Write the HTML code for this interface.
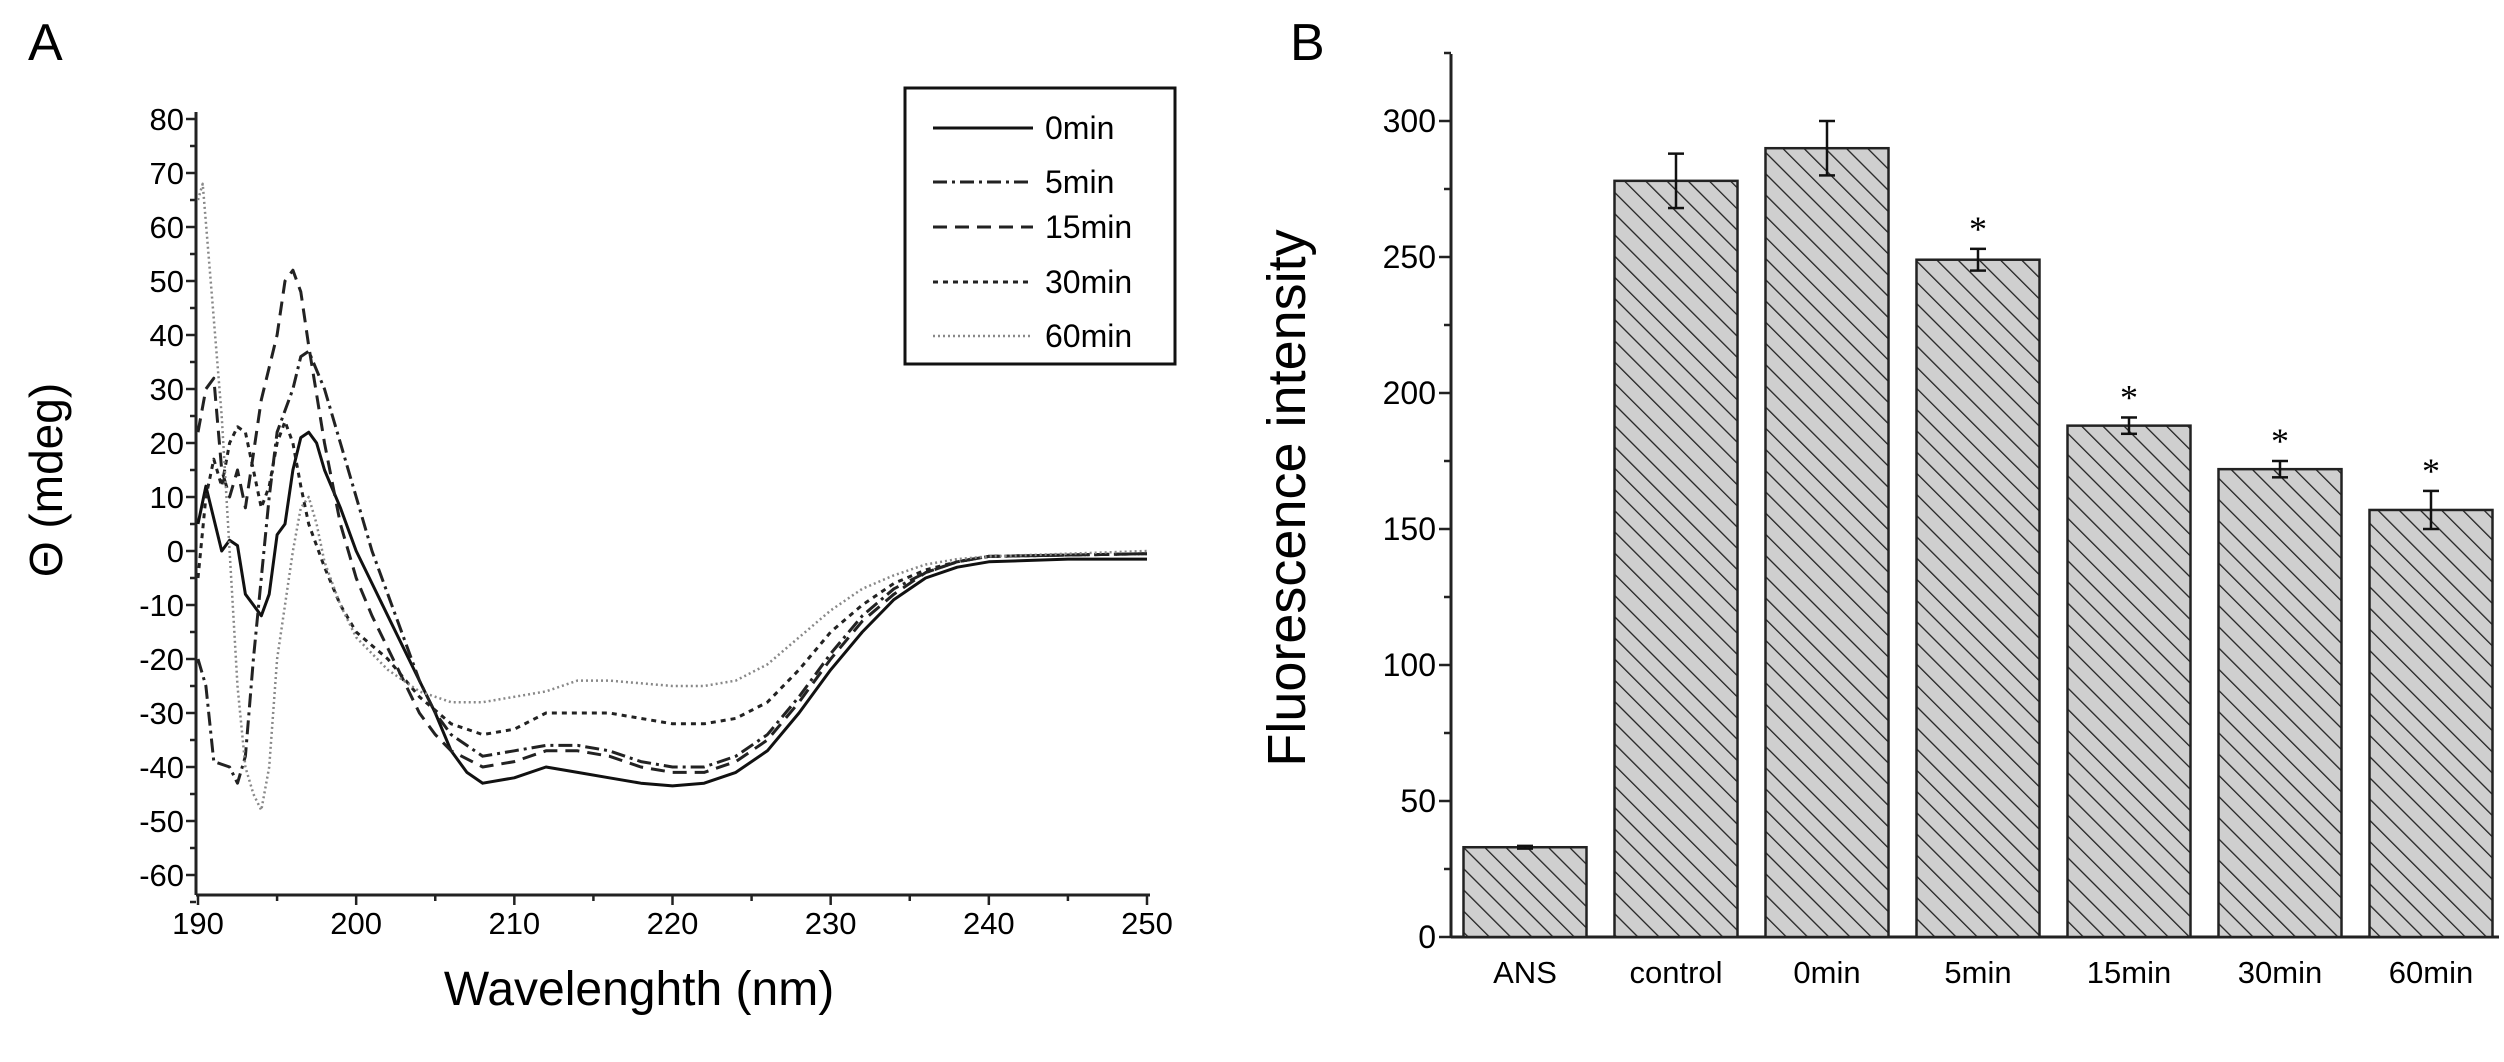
<!DOCTYPE html>
<html><head><meta charset="utf-8"><style>
html,body{margin:0;padding:0;background:#fff;}
svg{display:block;font-family:"Liberation Sans",Arial,sans-serif;}
</style></head><body>
<svg id="fig" width="2504" height="1062" viewBox="0 0 2504 1062" xmlns="http://www.w3.org/2000/svg">
<defs>
<pattern id="hatch" patternUnits="userSpaceOnUse" width="15" height="15" patternTransform="rotate(-45)">
<rect width="15" height="15" fill="#cfcfcf"/>
<line x1="0" y1="0" x2="0" y2="15" stroke="#222" stroke-width="2.6"/>
</pattern>
</defs>
<text x="28" y="60" font-size="52">A</text>
<text x="1290" y="60" font-size="52">B</text>
<g id="gA"></g>
<g id="gB"></g>
</svg>
<script>
const NS="http://www.w3.org/2000/svg";
function mk(parent,tag,attrs,txt){const e=document.createElementNS(NS,tag);for(const k in attrs)e.setAttribute(k,attrs[k]);if(txt!==undefined)e.textContent=txt;parent.appendChild(e);return e;}

// ---------- Panel A data ----------
const aYTicks=[80,70,60,50,40,30,20,10,0,-10,-20,-30,-40,-50,-60];
const aXTicks=[190,200,210,220,230,240,250];
const seriesNames=["0min","5min","15min","30min","60min"];
const wl0=[190,190.5,191,191.5,192,192.5,193,193.5,194,194.5,195,195.5,196,196.5,197,197.5,198,199,200,201,202,203,204,205,206,207,208,210,212,214,216,218,220,222,224,226,228,230,232,234,236,238,240,245,250];
const v0=[5,12,6,0,2,1,-8,-10,-12,-8,3,5,15,21,22,20,15,8,0,-6,-12,-18,-24,-30,-37,-41,-43,-42,-40,-41,-42,-43,-43.5,-43,-41,-37,-30,-22,-15,-9,-5,-3,-2,-1.5,-1.5];
const wl1=[190,190.5,191,192,192.5,193,193.5,194,194.5,195,196,196.5,197,198,199,200,201,202,203,204,205,206,208,210,212,214,216,218,220,222,224,226,228,230,232,234,236,238,240,250];
const v1=[-20,-25,-39,-40,-43,-38,-20,-5,10,22,30,36,37,30,20,10,0,-8,-16,-24,-30,-34,-38,-37,-36,-36,-37,-39,-40,-40,-38,-34,-27,-19,-12,-7,-4,-2,-1,-0.5];
const wl2=[190,190.5,191,191.5,192,192.5,193,193.5,194,195,195.5,196,196.5,197,198,199,200,201,202,203,204,205,206,208,210,212,214,216,218,220,222,224,226,228,230,232,234,236,238,240,250];
const v2=[22,30,32,15,10,15,8,18,28,40,50,52,48,38,20,5,-5,-12,-18,-24,-30,-34,-37,-40,-39,-37,-37,-38,-40,-41,-41,-39,-35,-28,-20,-13,-8,-4,-2,-1,-0.5];
const wl3=[190,190.5,191,191.5,192,192.5,193,193.5,194,194.5,195,195.5,196,196.5,197,198,199,200,202,204,206,208,210,212,214,216,218,220,222,224,226,228,230,232,234,236,238,240,250];
const v3=[-5,10,17,12,20,23,22,15,8,12,20,24,20,12,5,-3,-10,-15,-20,-27,-32,-34,-33,-30,-30,-30,-31,-32,-32,-31,-28,-22,-15,-10,-6,-3.5,-2,-1,-0.5];
const wl4=[190,190.3,190.8,191.5,192,192.5,193,193.5,194,194.5,195,196,196.5,197,197.5,198,199,200,202,204,206,208,210,212,214,216,218,220,222,224,226,228,230,232,234,236,238,240,250];
const v4=[65,68,50,25,0,-25,-40,-45,-48,-40,-20,0,8,10,5,-2,-10,-16,-22,-26,-28,-28,-27,-26,-24,-24,-24.5,-25,-25,-24,-21,-16,-11,-7,-4.5,-2.5,-1.5,-1,0];

// ---------- Panel B data ----------
const bCats=["ANS","control","0min","5min","15min","30min","60min"];
const bVals=[33,278,290,249,188,172,157];
const bErr=[0.5,10,10,4,3,3,7];
const bSig=[false,false,false,true,true,true,true];
const bYTicks=[0,50,100,150,200,250,300];

// ---------- Panel A drawing ----------
const gA=document.getElementById('gA');
const AX0=198,AX1=1147,AY0=551,AYS=5.4,AXIS_B=895;
const ax=v=>AX0+(v-190)*(AX1-AX0)/60;
const ay=v=>AY0-v*AYS;
let l=mk(gA,'line',{x1:196,y1:112,x2:196,y2:AXIS_B,stroke:'#222','stroke-width':3});

l=mk(gA,'line',{x1:196,y1:AXIS_B,x2:1150,y2:AXIS_B,stroke:'#222','stroke-width':3});

for(let v=80;v>=-65;v-=5){mk(gA,'line',{x1:196-(v%10===0?10:6),y1:ay(v),x2:196,y2:ay(v),stroke:'#222','stroke-width':2.5});}
aYTicks.forEach(v=>{const t=mk(gA,'text',{x:184,y:ay(v)+11,'font-size':31,'text-anchor':'end'},String(v));
});
for(let v=190;v<=250;v+=5){mk(gA,'line',{x1:ax(v),y1:AXIS_B,x2:ax(v),y2:AXIS_B+(v%10===0?10:6),stroke:'#222','stroke-width':2.5});}
aXTicks.forEach(v=>{const t=mk(gA,'text',{x:ax(v),y:934,'font-size':31,'text-anchor':'middle'},String(v));
});
let t=mk(gA,'text',{x:639,y:1005,'font-size':48,'text-anchor':'middle'},'Wavelenghth (nm)');

t=mk(gA,'text',{x:0,y:0,'font-size':46,'text-anchor':'middle',transform:'translate(62,480) rotate(-90)'},'Θ (mdeg)');

const styles=[
 {dash:'',w:3,c:'#111'},
 {dash:'14 5 3 5',w:3,c:'#222'},
 {dash:'14 8',w:3,c:'#222'},
 {dash:'5 5',w:3,c:'#222'},
 {dash:'2 3',w:2.5,c:'#888'}];
const WLs=[wl0,wl1,wl2,wl3,wl4],VS=[v0,v1,v2,v3,v4];
WLs.forEach((wl,i)=>{
 const d=wl.map((w,j)=>(j?'L':'M')+ax(w).toFixed(1)+' '+ay(VS[i][j]).toFixed(1)).join(' ');
 const p=mk(gA,'path',{d:d,fill:'none',stroke:styles[i].c,'stroke-width':styles[i].w,'stroke-dasharray':styles[i].dash,'stroke-linejoin':'round'});
 
});
const leg=mk(gA,'g',{});

mk(leg,'rect',{x:905,y:88,width:270,height:276,fill:'#fff',stroke:'#111','stroke-width':3});
const legY=[118,172,217,272,326];
seriesNames.forEach((n,i)=>{
 const g=mk(leg,'g',{});
 
 mk(g,'line',{x1:933,y1:legY[i]+10,x2:1033,y2:legY[i]+10,stroke:styles[i].c,'stroke-width':styles[i].w,'stroke-dasharray':styles[i].dash});
 mk(g,'text',{x:1045,y:legY[i]+21,'font-size':32},n);
});

// ---------- Panel B drawing ----------
const gB=document.getElementById('gB');
const BX=1451,BY0=937,BYS=136/50,BW=123,BSTEP=151,BC0=1525;
const by=v=>BY0-v*BYS;
const bx=i=>BC0+i*BSTEP;
l=mk(gB,'line',{x1:BX,y1:54,x2:BX,y2:BY0,stroke:'#222','stroke-width':3});

l=mk(gB,'line',{x1:BX,y1:BY0,x2:2499,y2:BY0,stroke:'#222','stroke-width':3});

for(let v=0;v<=325;v+=25){mk(gB,'line',{x1:BX-(v%50===0?12:7),y1:by(v),x2:BX,y2:by(v),stroke:'#222','stroke-width':2.5});}
bYTicks.forEach(v=>{const t=mk(gB,'text',{x:1436,y:by(v)+11,'font-size':32,'text-anchor':'end'},String(v));
});
t=mk(gB,'text',{x:0,y:0,'font-size':54,'text-anchor':'middle',transform:'translate(1305,498) rotate(-90)'},'Fluorescence intensity');

bCats.forEach((c,i)=>{
 const cx=bx(i),top=by(bVals[i]);
 const r=mk(gB,'rect',{x:cx-BW/2,y:top,width:BW,height:BY0-top,fill:'url(#hatch)',stroke:'#222','stroke-width':2.5});
 
 const e1=by(bVals[i]+bErr[i]),e2=by(bVals[i]-bErr[i]);
 const eb=mk(gB,'g',{stroke:'#111','stroke-width':2.5});
 
 mk(eb,'line',{x1:cx,y1:e1,x2:cx,y2:e2});
 mk(eb,'line',{x1:cx-8,y1:e1,x2:cx+8,y2:e1});
 mk(eb,'line',{x1:cx-8,y1:e2,x2:cx+8,y2:e2});
 if(bSig[i]){const s=mk(gB,'text',{x:cx,y:e1-8,'font-size':36,'text-anchor':'middle','font-family':'Liberation Serif, serif'},'*');
  }
 const lb=mk(gB,'text',{x:cx,y:983,'font-size':31,'text-anchor':'middle'},c);
 
});
</script>
</body></html>
